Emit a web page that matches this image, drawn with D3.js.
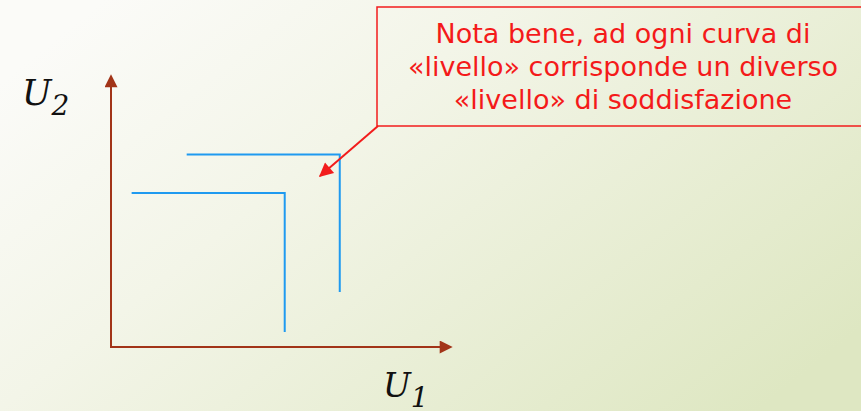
<!DOCTYPE html>
<html>
<head>
<meta charset="utf-8">
<script src="https://cdn.jsdelivr.net/npm/d3@7"></script>
<style>
  body { margin: 0; }
  svg { display: block; }
</style>
</head>
<body>
<div id="chart"></div>
<script>
// Leontief indifference curves (corner of each L plus the ends of its two arms)
const curveCornerX = [6.65, 5.05];
const curveCornerY = [7.0, 5.6];
const curveLeftX = [2.2, 0.6];
const curveBottomY = [2.0, 0.55];

const noteLines = ['Nota bene, ad ogni curva di', '«livello» corrisponde un diverso', '«livello» di soddisfazione'];

const width = 861, height = 411;

const svg = d3.select('#chart').append('svg')
    .attr('width', width)
    .attr('height', height);

// background gradient
const defs = svg.append('defs');
const grad = defs.append('linearGradient')
    .attr('id', 'bg')
    .attr('x1', '0%').attr('y1', '20%')
    .attr('x2', '100%').attr('y2', '80%');
grad.append('stop').attr('offset', '0%').attr('stop-color', '#fbfbf8');
grad.append('stop').attr('offset', '35%').attr('stop-color', '#f3f5e8');
grad.append('stop').attr('offset', '100%').attr('stop-color', '#dee7c2');

defs.append('marker')
    .attr('id', 'axisHead')
    .attr('viewBox', '0 0 10 10')
    .attr('refX', 1).attr('refY', 5)
    .attr('markerWidth', 14).attr('markerHeight', 13)
    .attr('markerUnits', 'userSpaceOnUse')
    .attr('orient', 'auto')
    .append('path')
    .attr('d', 'M0,0 L10,5 L0,10 Z')
    .attr('fill', '#a23418');

defs.append('marker')
    .attr('id', 'redHead')
    .attr('viewBox', '0 0 10 10')
    .attr('refX', 9).attr('refY', 5)
    .attr('markerWidth', 16).attr('markerHeight', 14)
    .attr('markerUnits', 'userSpaceOnUse')
    .attr('orient', 'auto')
    .append('path')
    .attr('d', 'M0,0 L10,5 L0,10 Z')
    .attr('fill', '#f21c1c');

svg.append('rect')
    .attr('width', width)
    .attr('height', height)
    .attr('fill', 'url(#bg)');

const x = d3.scaleLinear().domain([0, 10]).range([111, 455]);
const y = d3.scaleLinear().domain([0, 10]).range([347, 72]);

// axes
svg.append('line')
    .attr('x1', x(0)).attr('y1', y(0) + 1)
    .attr('x2', x(0)).attr('y2', y(10) + 14)
    .attr('stroke', '#a23418')
    .attr('stroke-width', 2)
    .attr('marker-end', 'url(#axisHead)');

svg.append('line')
    .attr('x1', x(0) - 1).attr('y1', y(0))
    .attr('x2', x(10) - 14).attr('y2', y(0))
    .attr('stroke', '#a23418')
    .attr('stroke-width', 2)
    .attr('marker-end', 'url(#axisHead)');

// curves
const curves = curveCornerX.map((cx, i) => ({
    cx: cx, cy: curveCornerY[i], left: curveLeftX[i], bottom: curveBottomY[i]
}));

svg.append('g').selectAll('path')
    .data(curves)
    .enter().append('path')
    .attr('d', d => d3.line()([[x(d.left), y(d.cy)], [x(d.cx), y(d.cy)], [x(d.cx), y(d.bottom)]]))
    .attr('fill', 'none')
    .attr('stroke', '#1f9af0')
    .attr('stroke-width', 2);

// axis labels
const labelFont = '"DejaVu Serif", "Liberation Serif", serif';
const u2 = svg.append('text')
    .attr('x', 22).attr('y', 105)
    .attr('font-family', labelFont)
    .attr('font-style', 'italic')
    .attr('font-size', 35)
    .attr('fill', '#111');
u2.append('tspan').text('U');
u2.append('tspan').attr('dy', 10).attr('font-size', 28).text('2');

const u1 = svg.append('text')
    .attr('x', 383).attr('y', 397)
    .attr('font-family', labelFont)
    .attr('font-style', 'italic')
    .attr('font-size', 33)
    .attr('fill', '#111');
u1.append('tspan').text('U');
u1.append('tspan').attr('dy', 10).attr('font-size', 28).text('1');

// callout box
svg.append('rect')
    .attr('x', 377).attr('y', 7)
    .attr('width', 500).attr('height', 119)
    .attr('fill', 'none')
    .attr('stroke', '#f21c1c')
    .attr('stroke-width', 1.5);

svg.append('path')
    .attr('d', 'M378,126 L320,176')
    .attr('fill', 'none')
    .attr('stroke', '#f21c1c')
    .attr('stroke-width', 2)
    .attr('marker-end', 'url(#redHead)');

svg.append('g').selectAll('text')
    .data(noteLines)
    .enter().append('text')
    .attr('x', 623)
    .attr('y', (d, i) => 43 + i * 33)
    .attr('text-anchor', 'middle')
    .attr('font-family', '"DejaVu Sans", sans-serif')
    .attr('font-size', 27)
    .attr('fill', '#f41a1a')
    .text(d => d);
</script>
</body>
</html>
